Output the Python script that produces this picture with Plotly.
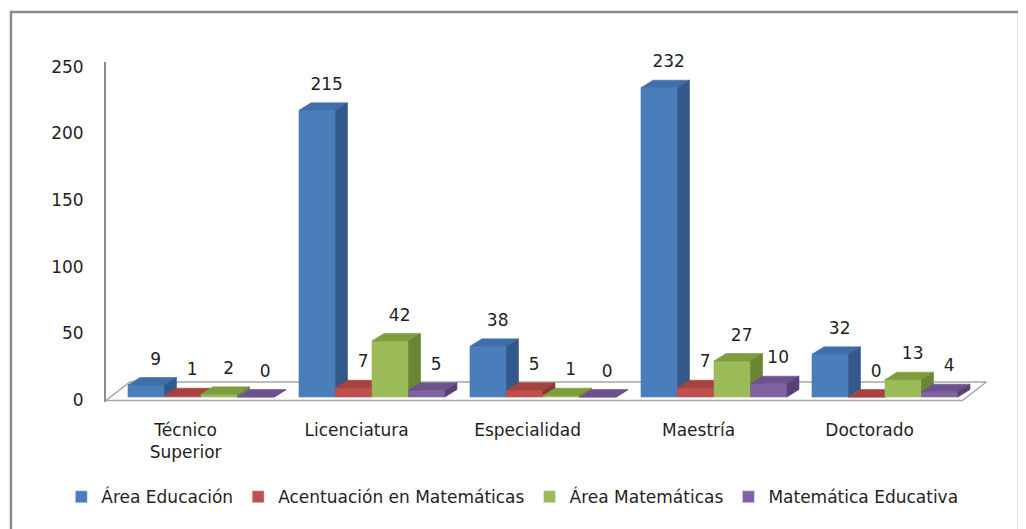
import plotly.graph_objects as go

# ---------------- data ----------------
categories = ["Técnico<br>Superior", "Licenciatura", "Especialidad", "Maestría", "Doctorado"]
series_names = ["Área Educación", "Acentuación en Matemáticas", "Área Matemáticas", "Matemática Educativa"]
area_educacion = [9, 215, 38, 232, 32]
acentuacion_matematicas = [1, 7, 5, 7, 0]
area_matematicas = [2, 42, 1, 27, 13]
matematica_educativa = [0, 5, 0, 10, 4]
y_ticks = [0, 50, 100, 150, 200, 250]

series = [area_educacion, acentuacion_matematicas, area_matematicas, matematica_educativa]

# ---------------- style ----------------
front_colors = ["#4A7EBB", "#C0504D", "#9BBB59", "#8064A2"]
top_colors = ["#3F6FAA", "#A8423F", "#7E9D3D", "#6C5390"]
side_colors = ["#32598A", "#8C3533", "#6A8534", "#574275"]

W = 0.2135      # bar width (category units)
DX = 0.07       # depth offset x (category units)
DY = 5.6        # depth offset y (value units)
BASE = 2.25     # bar base level
LABEL_SHIFT = 0.09
FONT = "DejaVu Sans"
TXT = "#1f1f1f"
FS = 17

fig = go.Figure()

# floor (3D base plane)
fig.add_trace(go.Scatter(
    x=[-0.5556, 4.452, 4.593, -0.416, -0.5556],
    y=[-0.4, -0.4, 13.5, 13.5, -0.4],
    mode="lines", fill="toself", fillcolor="#ffffff",
    line=dict(color="#a6a6a6", width=1.5),
    showlegend=False, hoverinfo="skip"))

ncat = len(categories)
for k, vals in enumerate(series):
    fx, fy, tx, ty, sx, sy = [], [], [], [], [], []
    for i, v in enumerate(vals):
        L = i - 2 * W + k * W
        R = L + W
        B = BASE
        T = BASE + v
        fx += [L, R, R, L, L, None]
        fy += [B, B, T, T, B, None]
        tx += [L, R, R + DX, L + DX, L, None]
        ty += [T, T, T + DY, T + DY, T, None]
        sx += [R, R + DX, R + DX, R, R, None]
        sy += [B, B + DY, T + DY, T, B, None]
    for xs, ys, col in ((fx, fy, front_colors[k]), (tx, ty, top_colors[k]), (sx, sy, side_colors[k])):
        fig.add_trace(go.Scatter(
            x=xs, y=ys, mode="lines", fill="toself", fillcolor=col,
            line=dict(color=col, width=0.6), showlegend=False, hoverinfo="skip"))

# value labels
for k, vals in enumerate(series):
    lx = [i - 2 * W + k * W + W / 2 + DX / 2 + 0.02 for i in range(ncat)]
    ly = [BASE + v + DY + 6.5 for v in vals]
    fig.add_trace(go.Scatter(
        x=lx, y=ly, mode="text", text=[str(v) for v in vals],
        textposition="top center", textfont=dict(family=FONT, size=FS, color=TXT),
        cliponaxis=False, showlegend=False, hoverinfo="skip"))

# legend entries
for k, name in enumerate(series_names):
    fig.add_trace(go.Bar(x=[None], y=[None], name=name, marker_color=front_colors[k]))

fig.update_layout(
    width=1026, height=529,
    margin=dict(l=98, r=34, t=54, b=135),
    paper_bgcolor="white", plot_bgcolor="white",
    font=dict(family=FONT, size=FS, color=TXT),
    showlegend=True,
    legend=dict(orientation="h", x=-0.05, xanchor="left",
                y=-0.28, yanchor="middle",
                font=dict(family=FONT, size=FS, color=TXT), traceorder="normal",
                itemwidth=30, tracegroupgap=0),
    xaxis=dict(range=[-0.5556, 4.6725], tickvals=[i - LABEL_SHIFT for i in range(ncat)],
               ticktext=categories, showgrid=False, zeroline=False, showline=False,
               ticks="", ticklabelstandoff=16, tickfont=dict(family=FONT, size=FS, color=TXT),
               fixedrange=True),
    yaxis=dict(range=[-1.5, 253.5], tickvals=y_ticks, showgrid=False, zeroline=False,
               showline=True, linecolor="#8c8c8c", linewidth=2, ticks="",
               ticklabelstandoff=17, tickfont=dict(family=FONT, size=FS, color=TXT),
               fixedrange=True),
    shapes=[dict(type="rect", xref="paper", yref="paper",
                 x0=-0.1063, x1=1.0213, y0=-0.42, y1=1.147,
                 line=dict(color="#8a8a8a", width=2.5), fillcolor="rgba(0,0,0,0)")],
)

fig.write_html("out.html")
